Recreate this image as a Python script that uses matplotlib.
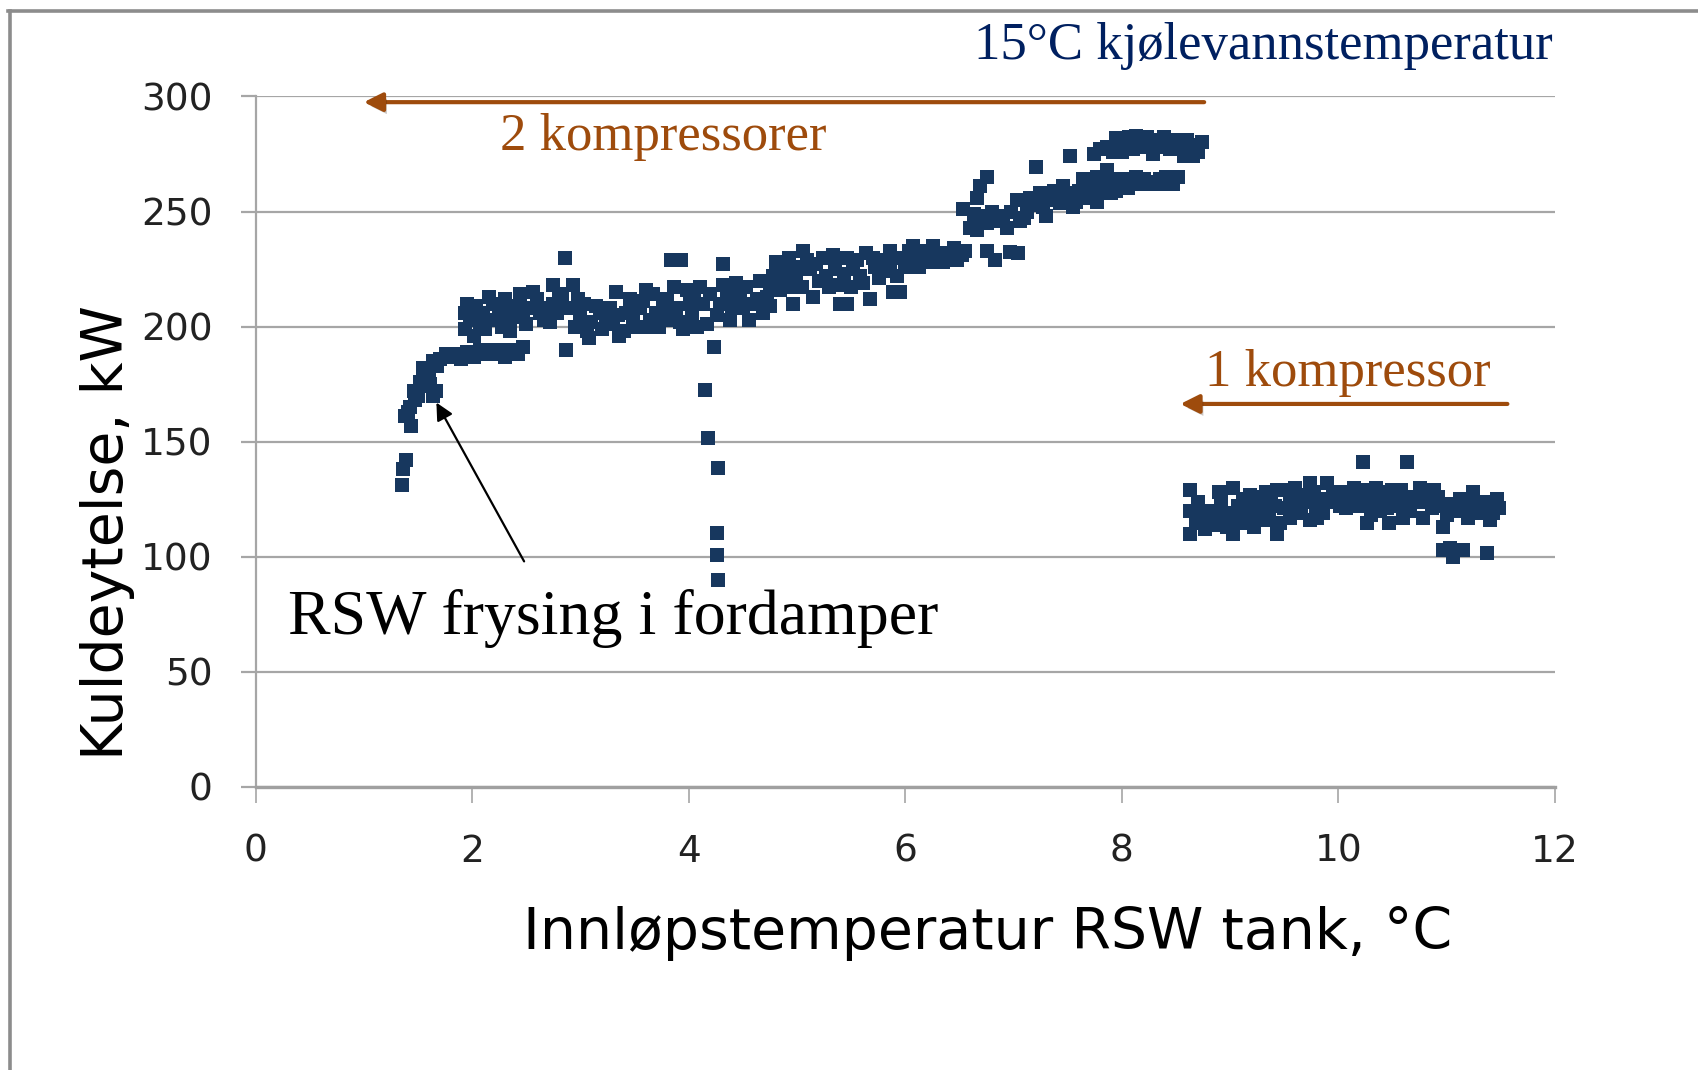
#! /usr/bin/env python3
"""
Kuldeytelse vs innloepstemperatur RSW tank (15 C kjolevann)
"""
import matplotlib
matplotlib.use("Agg")
import matplotlib.pyplot as plt
import matplotlib.patheffects as pe
from matplotlib.lines import Line2D

# --------------------------------------------------------------------------
# data (x = degC, y = kW)

# start-up / freezing in evaporator
x_start = [1.35, 1.36, 1.39, 1.38, 1.44, 1.41, 1.46, 1.50, 1.55, 1.61, 1.67, 1.64,
           1.55, 1.58, 1.64, 1.70, 1.76, 1.85, 1.95, 2.07, 2.15, 2.23, 2.35, 2.47,
           2.40, 2.30, 2.00, 1.52, 1.60, 1.68, 1.80, 1.90, 2.02, 2.10, 2.20, 2.28,
           2.42, 1.43, 1.47]
y_start = [131, 138, 142, 161, 157, 163, 172, 170, 174, 175, 172, 170,
           182, 179, 185, 186, 188, 188, 189, 190, 188, 188, 189, 191,
           190, 187, 188, 176, 180, 183, 187, 186, 187, 190, 190, 190,
           188, 165, 168]

# two compressors, main band
x_two = [1.93, 1.93, 1.98, 2.04, 2.07, 2.10, 2.19, 2.19, 2.25, 2.32, 2.35, 2.38,
         2.44, 2.47, 2.53, 2.60, 2.66, 2.70, 2.75, 2.75, 2.80, 2.86, 2.93, 2.98,
         2.87, 3.00, 3.06, 3.10, 3.18, 3.24, 3.30, 3.33, 3.36, 3.42, 3.49, 3.55,
         3.61, 3.61, 3.64, 3.70, 3.76, 3.84, 3.93, 3.86, 3.83, 3.95, 4.01, 4.05,
         4.10, 4.17, 4.23, 4.32, 4.29, 4.35, 4.38, 4.44, 4.50, 4.56, 4.53, 4.63,
         4.69, 4.75, 4.75, 4.81, 4.87, 4.93, 4.96, 4.96, 5.02, 5.06, 5.12, 5.15,
         5.20, 5.24, 5.30, 5.35, 5.40, 5.46, 5.52, 5.46, 5.58, 5.64, 5.67, 5.72,
         5.80, 5.86, 5.89, 5.86, 5.95, 6.00, 6.07, 6.07, 6.13, 6.20, 6.26, 6.35,
         6.41, 6.48, 6.55, 5.95,
         1.95, 2.02, 2.12, 2.16, 2.28, 2.30, 2.41, 2.50, 2.56, 2.63, 2.72, 2.78,
         2.83, 2.90, 2.95, 3.03, 3.08, 3.14, 3.20, 3.27, 3.35, 3.40, 3.46, 3.52,
         3.58, 3.67, 3.73, 3.80, 3.88, 3.92, 3.98, 4.03, 4.08, 4.13, 4.20, 4.26,
         4.32, 4.40, 4.47, 4.58, 4.66, 4.72, 4.78, 4.84, 4.90, 4.99, 5.05, 5.09,
         5.18, 5.27, 5.33, 5.38, 5.43, 5.50, 5.55, 5.61, 5.70, 5.76, 5.83, 5.92,
         6.03, 6.10, 6.16, 6.23, 6.30, 6.38, 6.45, 6.52]
y_two = [206, 199, 203, 209, 201, 206, 210, 203, 206, 207, 198, 204,
         214, 205, 208, 212, 203, 208, 218, 210, 214, 230, 218, 212,
         190, 204, 198, 202, 206, 203, 201, 215, 196, 206, 204, 208,
         216, 200, 203, 206, 209, 229, 229, 217, 203, 199, 210, 214,
         217, 201, 191, 227, 210, 215, 203, 219, 208, 203, 217, 212,
         206, 217, 209, 228, 222, 230, 217, 210, 226, 233, 225, 213,
         220, 230, 217, 225, 210, 230, 225, 210, 222, 232, 212, 226,
         229, 233, 215, 224, 230, 226, 230, 235, 226, 231, 235, 228,
         232, 229, 233, 215,
         210, 196, 199, 213, 200, 212, 209, 201, 215, 206, 202, 206,
         212, 208, 200, 210, 195, 209, 199, 208, 205, 198, 212, 200,
         211, 214, 200, 212, 208, 202, 216, 205, 200, 210, 214, 205,
         218, 209, 213, 210, 220, 213, 222, 216, 225, 221, 217, 229,
         227, 222, 231, 218, 223, 217, 229, 219, 230, 221, 227, 222,
         233, 228, 233, 228, 232, 230, 234, 231]

# sudden drop around 4.2 degC
x_drop = [4.15, 4.18, 4.27, 4.26, 4.26, 4.27]
y_drop = [172.5, 151.5, 138.4, 110.2, 100.8, 89.9]

# two compressors, upper part
x_high = [6.75, 6.69, 6.66, 6.53, 6.63, 6.72, 6.60, 6.75, 6.66, 6.75, 6.83, 6.97,
          7.04, 6.90, 6.94, 7.03, 7.06, 7.12, 7.18, 7.21, 7.24, 7.30, 7.37, 7.43,
          7.49, 7.52, 7.55, 7.60, 7.64, 7.67, 7.72, 7.77, 7.77, 7.82, 7.86, 7.92,
          7.95, 8.02, 8.10, 8.16, 8.23, 8.29, 8.35, 8.41, 8.47, 8.47, 7.74, 7.80,
          7.86, 7.92, 7.98, 8.04, 8.07, 8.10, 8.16, 8.23, 8.29, 8.33, 8.39, 8.44,
          8.50, 8.57, 8.57, 8.62, 8.66, 8.66, 8.74,
          6.80, 6.85, 6.98, 7.10, 7.15, 7.27, 7.33, 7.40, 7.46, 7.58, 7.70, 7.84,
          7.90, 8.00, 8.06, 8.13, 8.20, 8.26, 8.38, 8.44, 8.52, 7.95, 8.00, 8.13,
          8.20, 8.27, 8.36, 8.47, 8.53, 8.60, 8.70]
y_high = [265, 261, 256, 251, 249, 248, 243, 245, 242, 233, 229, 232.5,
          232, 248, 243, 255, 246, 250, 253, 269.5, 258, 248, 259, 253.5,
          258, 274, 252, 259, 264, 256, 260, 265, 254, 262, 268, 264,
          259, 261, 262, 263, 262, 263, 264, 265, 264, 262, 275, 277,
          278, 276, 279, 282, 282.5, 277, 280, 282.5, 275, 279, 282.5, 277,
          281, 281, 274, 277, 274, 279, 280,
          250, 246, 250, 247, 256, 252, 255, 256, 261, 254, 262, 259,
          258, 264, 260, 265, 264, 262, 262, 263, 265, 282, 276, 283,
          278, 281, 278, 281, 277, 281, 276]

# one compressor
x_one = [8.63, 8.63, 8.63, 8.68, 8.72, 8.77, 8.81, 8.87, 8.94, 8.97, 9.03, 9.03,
         9.07, 9.12, 9.15, 9.20, 9.27, 9.30, 9.34, 9.38, 9.43, 9.46, 9.43, 9.50,
         9.55, 9.55, 9.62, 9.68, 9.74, 9.74, 9.79, 9.83, 9.89, 9.95, 10.01, 10.04,
         10.10, 10.14, 10.20, 10.23, 10.26, 10.30, 10.35, 10.38, 10.42, 10.47, 10.51, 10.55,
         10.58, 10.63, 10.63, 10.69, 10.75, 10.78, 10.82, 10.88, 10.94, 10.97, 10.97, 11.03,
         11.06, 11.15, 11.06, 11.12, 11.18, 11.24, 11.31, 11.37, 11.40, 11.43, 11.46, 11.48,
         8.70, 8.76, 8.85, 8.92, 9.00, 9.10, 9.18, 9.25, 9.36, 9.41, 9.52, 9.58,
         9.65, 9.71, 9.77, 9.86, 9.92, 9.98, 10.07, 10.12, 10.17, 10.28, 10.33, 10.45,
         10.49, 10.61, 10.66, 10.72, 10.80, 10.86, 10.92, 11.01, 11.09, 11.21, 11.28, 11.34,
         11.44,
         8.90, 9.05, 9.22, 9.33, 9.60, 9.80, 10.00, 10.25, 10.40, 10.60, 10.85, 11.00,
         11.20]
y_one = [129, 120, 110, 116, 114.5, 112, 117, 120, 117, 113, 130, 110,
         122, 125, 114.5, 119, 126, 116, 120, 124, 129, 114.5, 110, 121,
         117, 126, 123, 127, 132, 116, 121, 125, 132, 128, 122, 128,
         125, 130, 122, 141, 114.5, 118, 130, 120, 125, 114.5, 126, 122,
         129, 141, 122, 126, 130, 117, 124, 129, 122, 113, 103, 104,
         100, 103, 120, 125, 121, 128, 119, 101.5, 116, 119, 125, 121,
         124, 120, 114, 124, 119, 117, 127, 121, 116, 122, 129, 121,
         119, 124, 128, 119, 124, 127, 121, 127, 126, 126, 122, 121,
         129, 125, 120, 124, 127, 121, 126, 123, 120, 124, 123, 124,
         122,
         128, 115, 113, 128, 130, 117, 126, 129, 128, 117, 126, 118,
         117]

x_ticks = [0, 2, 4, 6, 8, 10, 12]
y_ticks = [0, 50, 100, 150, 200, 250, 300]

POINT_COLOR = "#17375E"
BROWN = "#9E4B0C"
GRID = "#A6A6A6"


def brown_arrow(ax, start, end):
    ax.annotate("", xy=end, xytext=start,
                arrowprops=dict(arrowstyle="-|>", color=BROWN, lw=3,
                                mutation_scale=28, shrinkA=0, shrinkB=0,
                                path_effects=[pe.withSimplePatchShadow(
                                    offset=(2, -3), alpha=0.25)]))


# --------------------------------------------------------------------------
if __name__ == "__main__":

    fig = plt.figure(figsize=(16.98, 10.70), dpi=100)
    ax = fig.add_axes([0.1505, 0.2645, 0.7653, 0.6454])

    for xs, ys in [(x_start, y_start), (x_two, y_two), (x_drop, y_drop),
                   (x_high, y_high), (x_one, y_one)]:
        ax.plot(xs, ys, ls="none", marker="s", ms=10.3, mew=0, color=POINT_COLOR,
                zorder=3)

    ax.set_xlim(0, 12)
    ax.set_ylim(0, 300)
    ax.set_xticks(x_ticks)
    ax.set_yticks(y_ticks)
    ax.grid(axis="y", color=GRID, lw=1.6)
    ax.set_axisbelow(True)

    for side in ("top", "right"):
        ax.spines[side].set_visible(False)
    ax.spines["left"].set_color(GRID)
    ax.spines["left"].set_linewidth(1.6)
    ax.spines["bottom"].set_color("#A0A0A0")
    ax.spines["bottom"].set_linewidth(2.4)

    ax.tick_params(axis="x", direction="out", length=11.5, width=1.2,
                   color=GRID, pad=22, labelsize=27, labelcolor="#222222")
    ax.tick_params(axis="y", direction="out", length=10.8, width=1.6,
                   color=GRID, pad=20, labelsize=27, labelcolor="#222222")

    ax.set_xlabel("Innløpstemperatur RSW tank, °C", fontsize=41,
                  va="baseline", color="black")
    ax.xaxis.set_label_coords(0.5636, -0.2346)
    ax.set_ylabel("Kuldeytelse, kW", fontsize=41, color="black")
    ax.yaxis.set_label_coords(-0.093, 0.369)

    # annotations
    serif = "Liberation Serif"
    fig.text(973.8 / 1698, 1 - 59.3 / 1070, "15°C kjølevannstemperatur",
             family=serif, fontsize=38, color="#002060", va="baseline")
    ax.text(2.26, 276.7, "2 kompressorer", family=serif, fontsize=38,
            color=BROWN, va="baseline")
    ax.text(8.77, 174, "1 kompressor", family=serif, fontsize=38,
            color=BROWN, va="baseline")
    ax.text(0.30, 66.6, "RSW frysing i fordamper", family=serif, fontsize=46,
            color="black", va="baseline")

    brown_arrow(ax, (8.76, 297.5), (1.0, 297.5))
    brown_arrow(ax, (11.56, 166.4), (8.54, 166.4))
    ax.annotate("", xy=(1.67, 167), xytext=(2.48, 98),
                arrowprops=dict(arrowstyle="-|>", color="black", lw=1.6,
                                mutation_scale=26, shrinkA=0, shrinkB=0))

    # frame of the original slide, left and top only
    fig.add_artist(Line2D([0.0056, 0.0056], [0, 0.9893], color="#8C8C8C", lw=2.6,
                          transform=fig.transFigure))
    fig.add_artist(Line2D([0.0045, 1], [0.9893, 0.9893], color="#8C8C8C", lw=2.6,
                          transform=fig.transFigure))

    fig.savefig("out.png", dpi=100)
